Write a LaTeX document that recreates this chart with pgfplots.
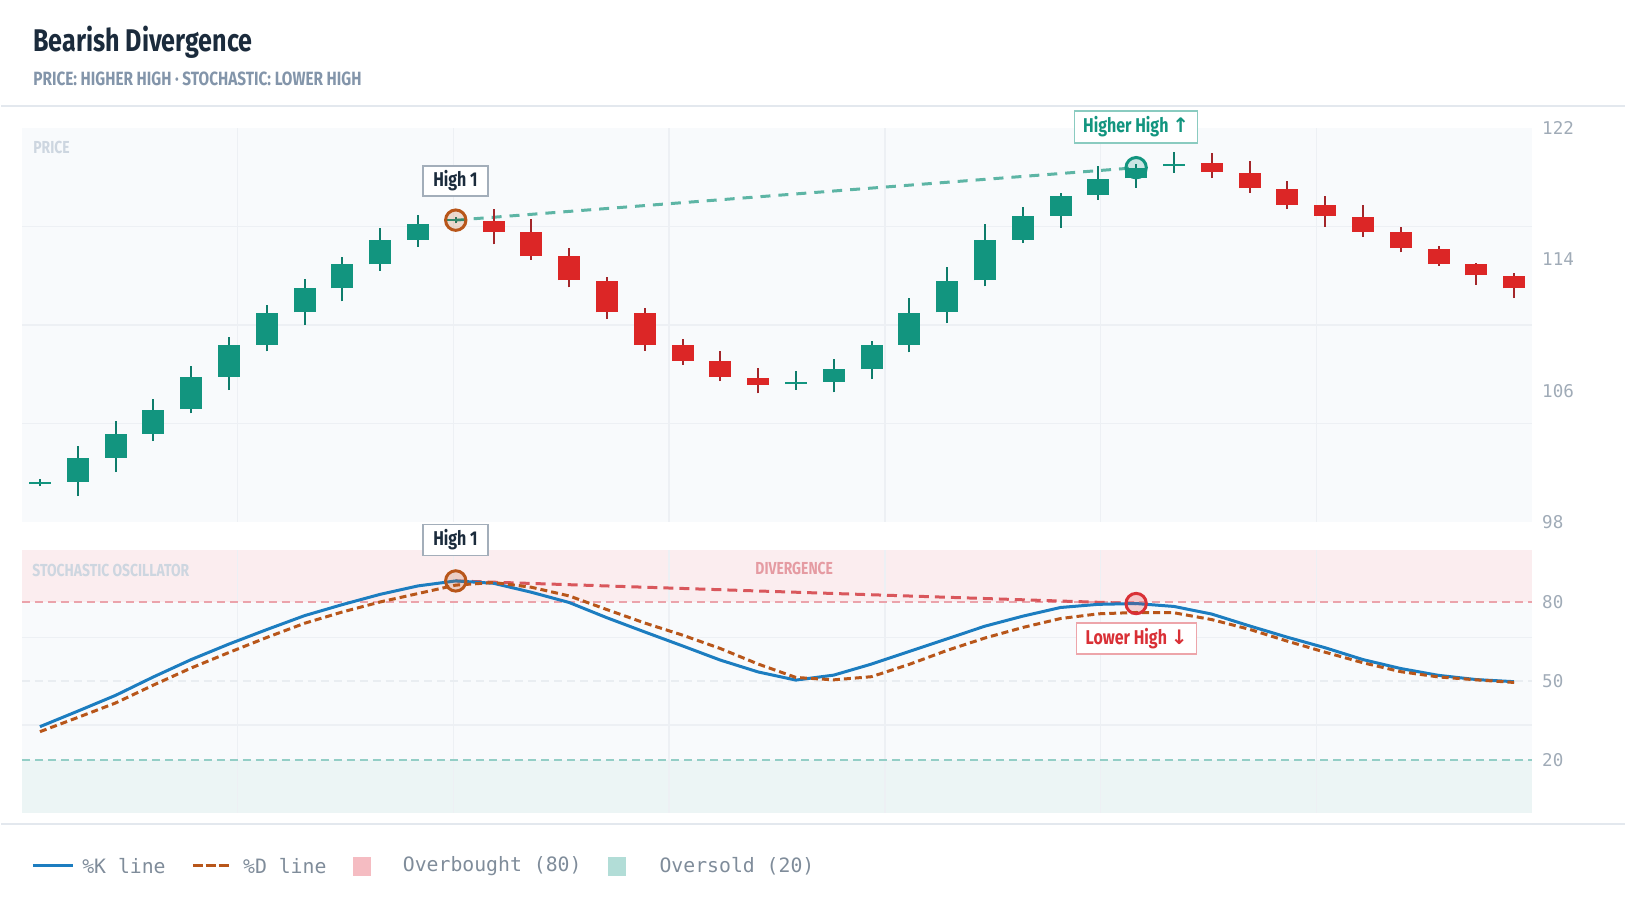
\documentclass[border=0pt]{standalone}
\usepackage{fontspec}
\usepackage{pgfplots}
\pgfplotsset{compat=1.18}
\usepackage{pgfplotstable}

\newfontfamily\cond[FakeStretch=0.8]{Fira Sans}
\newfontfamily\mono{DejaVu Sans Mono}
\newfontfamily\sym{DejaVu Sans}

\definecolor{titlec}{HTML}{1B2B3C}
\definecolor{subc}{HTML}{8395AA}
\definecolor{faintc}{HTML}{CDD6E0}
\definecolor{divtxt}{HTML}{E59BA2}
\definecolor{tickc}{HTML}{A0ABB7}
\definecolor{legc}{HTML}{7F8C9A}
\definecolor{sepc}{HTML}{E3E8EE}
\definecolor{panelbg}{HTML}{F8FAFC}
\definecolor{gridc}{HTML}{EDF0F4}
\definecolor{bullc}{HTML}{12957F}
\definecolor{bullw}{HTML}{0E7C6B}
\definecolor{bearc}{HTML}{DC2626}
\definecolor{bearw}{HTML}{A3262A}
\definecolor{kblue}{HTML}{1C7DC0}
\definecolor{dorange}{HTML}{B8561A}
\definecolor{obfill}{HTML}{FBEDEF}
\definecolor{osfill}{HTML}{ECF5F5}
\definecolor{obline}{HTML}{EBA3AB}
\definecolor{osline}{HTML}{93CEC6}
\definecolor{midline}{HTML}{E9EDF1}
\definecolor{divred}{HTML}{D9575C}
\definecolor{divteal}{HTML}{5DB5A5}
\definecolor{ringred}{HTML}{D93036}
\definecolor{boxgray}{HTML}{A3AEBA}
\definecolor{boxteal}{HTML}{8ACBC0}
\definecolor{boxred}{HTML}{EDA5AA}
\definecolor{legpink}{HTML}{F5BCC2}
\definecolor{legteal}{HTML}{B2DDD7}

% rising candles
\pgfplotstableread{
i open high low close
0 100.30 100.62 100.18 100.45
1 100.46 102.65 99.57 101.88
2 101.92 104.17 101.03 103.36
3 103.36 105.50 102.92 104.85
4 104.87 107.49 104.62 106.82
5 106.84 109.25 106.04 108.78
6 108.80 111.24 108.40 110.75
7 110.78 112.80 110.00 112.24
8 112.24 114.16 111.45 113.70
9 113.70 115.91 113.31 115.18
10 115.20 116.70 114.77 116.15
11 116.33 116.60 116.20 116.48
20 106.40 107.20 106.06 106.55
21 106.55 107.91 105.90 107.30
22 107.32 109.01 106.71 108.78
23 108.80 111.65 108.34 110.73
24 110.78 113.52 110.12 112.70
25 112.72 116.15 112.36 115.16
26 115.20 117.23 115.00 116.64
27 116.66 118.08 115.95 117.90
28 117.94 119.70 117.63 118.89
29 118.95 119.80 118.39 119.61
30 119.70 120.58 119.30 119.85
}\bull

% falling candles
\pgfplotstableread{
i open high low close
12 116.35 117.11 114.92 115.68
13 115.65 116.50 114.00 114.20
14 114.19 114.73 112.30 112.74
15 112.70 112.91 110.37 110.78
16 110.73 111.02 108.44 108.80
17 108.78 109.13 107.58 107.83
18 107.79 108.42 106.59 106.84
19 106.79 107.38 105.84 106.35
31 119.87 120.48 118.97 119.34
32 119.28 120.01 118.08 118.35
33 118.30 118.79 117.07 117.35
34 117.31 117.88 115.99 116.66
35 116.62 117.31 115.40 115.68
36 115.65 116.01 114.43 114.69
37 114.63 114.83 113.61 113.72
38 113.70 113.78 112.46 113.03
39 112.97 113.15 111.65 112.24
}\bear

% stochastic %K and %D
\pgfplotstableread{
i K D
0 32.7 30.8
1 38.6 36.2
2 44.6 41.7
3 51.6 48.5
4 58.2 55.0
5 64.1 60.9
6 69.6 66.6
7 74.9 72.0
8 79.1 76.3
9 83.0 80.1
10 86.2 83.3
11 88.1 86.5
12 87.2 87.5
13 83.8 85.7
14 79.9 82.4
15 74.1 77.2
16 68.7 72.1
17 63.4 67.5
18 58.0 62.4
19 53.5 56.5
20 50.4 51.4
21 52.3 50.5
22 56.5 51.7
23 61.3 56.4
24 66.1 61.7
25 70.9 66.4
26 74.7 70.4
27 78.0 73.8
28 79.2 75.6
29 79.5 76.1
30 78.4 76.0
31 75.5 73.4
32 71.0 69.7
33 66.7 65.2
34 62.7 61.0
35 58.2 57.0
36 54.8 53.6
37 52.2 51.6
38 50.6 50.5
39 49.8 49.5
}\osc

\pgfplotsset{
  panel/.style={
    width=756pt, scale only axis,
    xmin=-0.476, xmax=39.476,
    axis line style={draw=none},
    axis background/.style={fill=panelbg},
    xtick={5.231,10.938,16.645,22.352,28.059,33.766}, xticklabels={},
    xmajorgrids,
    major tick length=0pt,
    grid style={gridc, line width=0.7pt},
    yticklabel pos=right,
    /pgf/number format/assume math mode=true,
    yticklabel style={anchor=west, xshift=1.5pt, text=tickc,
      font=\mono\fontsize{8.8}{10}\selectfont},
    set layers,
  },
  wick/.style={draw=none, mark=none, forget plot,
    error bars/.cd, y dir=plus, y explicit, error mark=none,
    error bar style={draw=#1, line width=1pt}},
  body/.style={draw=none, mark=none, forget plot,
    error bars/.cd, y dir=plus, y explicit, error mark=none,
    error bar style={draw=#1, line width=11pt}},
}

\begin{document}
\begin{tikzpicture}
\path (0,0) rectangle (813pt,452pt);

% price panel
\begin{axis}[panel, at={(10.5pt,190.75pt)}, anchor=south west, height=197pt,
  ymin=98, ymax=122, ytick={98,106,114,122},
  extra y ticks={104,110,116}, extra y tick labels={},
  extra y tick style={grid=major}]
\addplot[divteal, line width=1.5pt, dash pattern=on 5pt off 4pt] coordinates {(11,116.4) (29,119.6)};
\addplot[only marks, mark=*, mark size=5.1pt,
  mark options={draw=dorange, line width=1.5pt, fill=dorange, fill opacity=0.2}] coordinates {(11,116.4)};
\addplot[only marks, mark=*, mark size=5.1pt,
  mark options={draw=bullc, line width=1.5pt, fill=bullc, fill opacity=0.2}] coordinates {(29,119.6)};
\addplot[wick=bullw] table[x=i, y=low, y error expr=\thisrow{high}-\thisrow{low}] {\bull};
\addplot[wick=bearw] table[x=i, y=low, y error expr=\thisrow{high}-\thisrow{low}] {\bear};
\addplot[body=bullc] table[x=i, y=open, y error expr=\thisrow{close}-\thisrow{open}] {\bull};
\addplot[body=bearc] table[x=i, y=close, y error expr=\thisrow{open}-\thisrow{close}] {\bear};
\end{axis}

% stochastic panel
\begin{axis}[panel, at={(10.5pt,45.15pt)}, anchor=south west, height=131.7pt,
  ymin=0, ymax=100, ytick={20,50,80},
  extra y ticks={33.333,66.667}, extra y tick labels={},
  extra y tick style={grid=major}]
\addplot[fill=obfill, draw=none, on layer=axis background] coordinates {(-0.476,80) (39.476,80) (39.476,100) (-0.476,100)} -- cycle;
\addplot[fill=osfill, draw=none, on layer=axis background] coordinates {(-0.476,0) (39.476,0) (39.476,20) (-0.476,20)} -- cycle;
\addplot[obline, line width=1pt, dash pattern=on 4pt off 2.5pt] coordinates {(-0.476,80) (39.476,80)};
\addplot[midline, line width=1pt, dash pattern=on 4pt off 2.5pt] coordinates {(-0.476,50) (39.476,50)};
\addplot[osline, line width=1pt, dash pattern=on 4pt off 2.5pt] coordinates {(-0.476,20) (39.476,20)};
\addplot[divred, line width=1.5pt, dash pattern=on 5pt off 3pt] coordinates {(11,88.1) (29,79.5)};
\addplot[kblue, line width=1.5pt, mark=none] table[x=i, y=K] {\osc};
\addplot[dorange, line width=1.5pt, mark=none, dash pattern=on 3.5pt off 2pt] table[x=i, y=D] {\osc};
\addplot[only marks, mark=*, mark size=5.1pt,
  mark options={draw=dorange, line width=1.5pt, fill=dorange, fill opacity=0.2}] coordinates {(11,88.1)};
\addplot[only marks, mark=*, mark size=5.1pt,
  mark options={draw=ringred, line width=1.5pt, fill=ringred, fill opacity=0.2}] coordinates {(29,79.5)};
\end{axis}

\begin{scope}[x=0.5pt, y=-0.5pt, shift={(0pt,452pt)}]
% header
\node[anchor=base west, inner sep=0, text=titlec, font=\cond\bfseries\fontsize{15.7}{18}\selectfont] at (32,52) {Bearish Divergence};
\node[anchor=base west, inner sep=0, text=subc, font=\cond\bfseries\fontsize{9.6}{11}\selectfont] at (32,86) {PRICE: HIGHER HIGH · STOCHASTIC: LOWER HIGH};
\draw[sepc, line width=1pt] (0,106.5) -- (1626,106.5);
\draw[sepc, line width=1pt] (0,825) -- (1626,825);
% panel captions
\node[anchor=base west, inner sep=0, text=faintc, font=\cond\bfseries\fontsize{8.7}{10}\selectfont] at (32,154) {PRICE};
\node[anchor=base west, inner sep=0, text=faintc, font=\cond\bfseries\fontsize{8.7}{10}\selectfont] at (31,577) {STOCHASTIC OSCILLATOR};
\node[anchor=base west, inner sep=0, text=divtxt, font=\cond\bfseries\fontsize{8.7}{10}\selectfont] at (755,575) {DIVERGENCE};
% callouts
\tikzset{callout/.style={draw=#1, fill=white, line width=0.8pt, inner sep=0pt,
  font=\cond\bfseries\fontsize{10}{12}\selectfont}}
\node[callout=boxgray, text=titlec, minimum width=32.5pt, minimum height=15pt] at (455,181) {High 1};
\node[callout=boxteal, text=bullc, minimum width=61.5pt, minimum height=16pt] at (1136.5,127) {Higher High {\sym\bfseries ↑}};
\node[callout=boxgray, text=titlec, minimum width=32.5pt, minimum height=15.5pt] at (455,540.5) {High 1};
\node[callout=boxred, text=ringred, minimum width=60pt, minimum height=15.5pt] at (1137,639.5) {Lower High {\sym\bfseries ↓}};
% legend
\tikzset{legtxt/.style={anchor=west, inner sep=0, text=legc, font=\mono\fontsize{9.9}{11}\selectfont}}
\draw[kblue, line width=1.5pt] (32,867) -- (72,867);
\node[legtxt] at (81,867) {\%K line};
\draw[dorange, line width=1.5pt, dash pattern=on 5pt off 1.5pt] (192,867) -- (228,867);
\node[legtxt] at (242,867) {\%D line};
\fill[legpink] (352,858) rectangle (370,877);
\node[legtxt] at (402,867) {Overbought (80)};
\fill[legteal] (608,858) rectangle (626,877);
\node[legtxt] at (659,867) {Oversold (20)};
\end{scope}
\end{tikzpicture}
\end{document}
